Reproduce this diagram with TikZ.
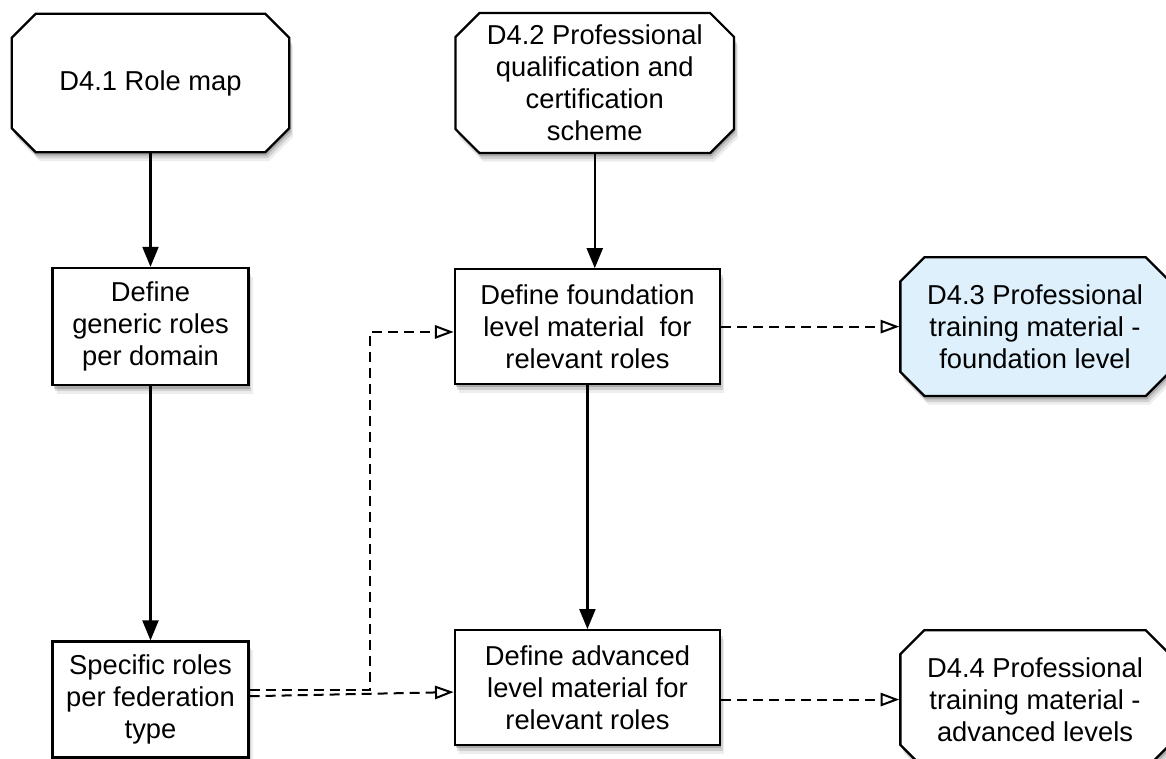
\documentclass[tikz,border=0pt]{standalone}
\usepackage{fontspec}
\setmainfont{Liberation Sans}
\usetikzlibrary{positioning}
\usetikzlibrary{shapes.misc}
\usetikzlibrary{arrows.meta}
\usetikzlibrary{shadows}
\definecolor{deliblue}{RGB}{221,240,252}

\begin{document}
\begin{tikzpicture}
	[x=0.75pt, y=-0.75pt,
	 font=\fontsize{20.5}{24}\selectfont,
	 softshadow/.style={drop shadow={shadow xshift=1pt, shadow yshift=-2.5pt, opacity=.18, fill=black},
	   drop shadow={shadow xshift=2pt, shadow yshift=-4.5pt, opacity=.12, fill=black},
	   drop shadow={shadow xshift=3pt, shadow yshift=-6.5pt, opacity=.07, fill=black}},
	 deliv/.style={chamfered rectangle, chamfered rectangle xsep=9pt, chamfered rectangle ysep=9pt,
	   draw, line width=1.7pt, fill=white, align=center, minimum height=104pt, inner sep=0pt, softshadow},
	 task/.style={rectangle, draw, line width=1.7pt, fill=white, align=center, softshadow},
	 flow/.style={-{Triangle[length=15pt,width=12pt]}, line width=1.6pt},
	 feed/.style={-{Triangle[open,length=14pt,width=10pt]}, line width=1.5pt, dash pattern=on 7.5pt off 4.5pt}]
	\useasboundingbox (0,0) rectangle (1166,758);
	\node[deliv, minimum width=208pt] (rmap) at (150.5,83) {D4.1 Role map};
	\node[deliv, minimum width=209pt] (qual) [right=123pt of rmap] {D4.2 Professional\\qualification and\\certification\\scheme};
	\node[task, minimum width=147pt, minimum height=88pt] (generic) [below=85pt of rmap] {Define\\generic roles\\per domain};
	\node[task, minimum width=147pt, minimum height=87pt] (specific) [below=190.5pt of generic] {Specific roles\\per federation\\type};
	\node[task, minimum width=199pt, minimum height=86pt] (found) [right=153pt of generic] {Define foundation\\level material~ for\\relevant roles};
	\node[task, minimum width=199pt, minimum height=86pt] (adv) [below=183pt of found] {Define advanced\\level material for\\relevant roles};
	\node[deliv, minimum width=202pt, fill=deliblue] (train3) [right=133.5pt of found] {D4.3 Professional\\training material -\\foundation level};
	\node[deliv, minimum width=202pt] (train4) [below=174pt of train3] {D4.4 Professional\\training material -\\advanced levels};
	\draw[flow] (rmap.south) -- (generic.north);
	\draw[flow] (generic.south) -- (specific.north);
	\draw[flow] (qual.south) -- (qual.south |- found.north);
	\draw[flow] (found.south) -- (adv.north);
	\draw[feed] (found.east) -- (train3.west);
	\draw[feed] (adv.east |- train4.west) -- (train4.west);
	\draw[feed] ([yshift=7.5pt]specific.east) -- ++(90pt,0) |- ([yshift=-4pt]found.west);
	\draw[feed] ([yshift=2.5pt]specific.east) -- ([yshift=-3.4pt]adv.west);
\end{tikzpicture}
\end{document}
